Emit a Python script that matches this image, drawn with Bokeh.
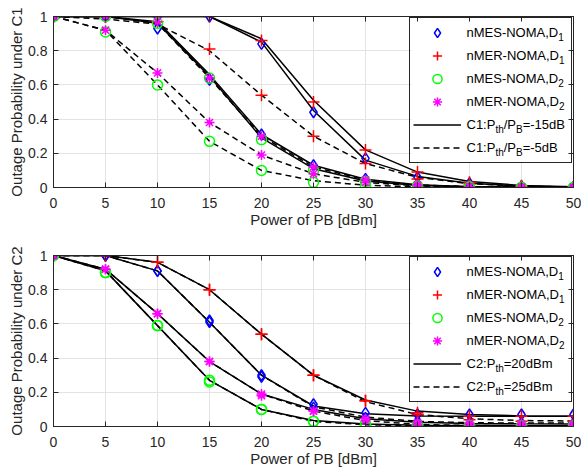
from bokeh.plotting import figure
from bokeh.models import Range1d, FixedTicker, LinearAxis, Legend, LegendItem, Label, BoxAnnotation
from bokeh.layouts import column
from bokeh.embed import file_html
from bokeh.resources import INLINE

# ---------------- data ----------------
power_dbm = [0, 5, 10, 15, 20, 25, 30, 35, 40, 45, 50]
x_ticks = [0, 5, 10, 15, 20, 25, 30, 35, 40, 45, 50]
y_ticks = [0, 0.2, 0.4, 0.6, 0.8, 1]

# C1 analytical curves (solid: Pth/PB=-15dB, dashed: Pth/PB=-5dB)
c1_a15_nmes_d1 = [1, 1, 1, 1, 0.85, 0.45, 0.16, 0.065, 0.025, 0.008, 0.003]
c1_a15_nmer_d1 = [1, 1, 1, 1, 0.87, 0.51, 0.22, 0.09, 0.035, 0.012, 0.004]
c1_a15_nmes_d2 = [1, 1, 0.96, 0.65, 0.29, 0.11, 0.038, 0.012, 0.004, 0.001, 0.0004]
c1_a15_nmer_d2 = [1, 1, 0.97, 0.66, 0.31, 0.13, 0.048, 0.016, 0.005, 0.0016, 0.0005]
c1_a5_nmes_d1 = [1, 1, 0.96, 0.64, 0.30, 0.12, 0.045, 0.015, 0.005, 0.0015, 0.0005]
c1_a5_nmer_d1 = [1, 0.985, 0.955, 0.80, 0.54, 0.30, 0.14, 0.06, 0.022, 0.008, 0.003]
c1_a5_nmes_d2 = [1, 0.92, 0.60, 0.27, 0.10, 0.04, 0.013, 0.004, 0.0013, 0.0004, 0.0001]
c1_a5_nmer_d2 = [1, 0.92, 0.67, 0.38, 0.19, 0.08, 0.03, 0.01, 0.0035, 0.0011, 0.0003]

# C1 simulation markers
c1_s15_nmes_d1 = [1, 1, 1, 1, 0.84, 0.44, 0.17, 0.06, 0.025, 0.008, 0.003]
c1_s15_nmer_d1 = [1, 1, 1, 1, 0.86, 0.50, 0.22, 0.09, 0.03, 0.01, 0.004]
c1_s15_nmes_d2 = [1, 1, 0.96, 0.64, 0.28, 0.10, 0.035, 0.01, 0.004, 0.001, 0]
c1_s15_nmer_d2 = [1, 1, 0.97, 0.64, 0.30, 0.12, 0.045, 0.015, 0.005, 0.002, 0.001]
c1_s5_nmes_d1 = [1, 1, 0.93, 0.63, 0.31, 0.13, 0.05, 0.02, 0.005, 0.002, 0.001]
c1_s5_nmer_d1 = [1, 1, 0.97, 0.81, 0.54, 0.30, 0.14, 0.05, 0.02, 0.007, 0.002]
c1_s5_nmes_d2 = [1, 0.91, 0.60, 0.27, 0.10, 0.03, 0.01, 0.003, 0.001, 0, 0]
c1_s5_nmer_d2 = [1, 0.92, 0.67, 0.38, 0.19, 0.08, 0.03, 0.01, 0.003, 0.001, 0]

# C2 analytical curves (solid: Pth=20dBm, dashed: Pth=25dBm)
c2_a20_nmes_d1 = [1, 1, 0.91, 0.61, 0.30, 0.12, 0.075, 0.062, 0.06, 0.06, 0.06]
c2_a20_nmer_d1 = [1, 1, 0.96, 0.80, 0.54, 0.30, 0.155, 0.09, 0.07, 0.062, 0.06]
c2_a20_nmes_d2 = [1, 0.91, 0.59, 0.27, 0.10, 0.035, 0.015, 0.008, 0.006, 0.005, 0.005]
c2_a20_nmer_d2 = [1, 0.92, 0.66, 0.38, 0.19, 0.10, 0.045, 0.025, 0.018, 0.016, 0.015]
c2_a25_nmes_d1 = [1, 1, 0.91, 0.61, 0.30, 0.115, 0.055, 0.03, 0.022, 0.02, 0.02]
c2_a25_nmer_d1 = [1, 1, 0.96, 0.80, 0.54, 0.30, 0.145, 0.07, 0.045, 0.035, 0.032]
c2_a25_nmes_d2 = [1, 0.91, 0.59, 0.27, 0.10, 0.03, 0.01, 0.004, 0.002, 0.001, 0.001]
c2_a25_nmer_d2 = [1, 0.92, 0.66, 0.38, 0.19, 0.09, 0.035, 0.012, 0.006, 0.004, 0.004]

# C2 simulation markers
c2_s20_nmes_d1 = [1, 1, 0.91, 0.62, 0.30, 0.13, 0.08, 0.07, 0.07, 0.07, 0.07]
c2_s20_nmer_d1 = [1, 1, 0.96, 0.80, 0.54, 0.30, 0.15, 0.08, 0.06, 0.06, 0.06]
c2_s20_nmes_d2 = [1, 0.90, 0.59, 0.27, 0.10, 0.03, 0.015, 0.008, 0.006, 0.005, 0.005]
c2_s20_nmer_d2 = [1, 0.92, 0.66, 0.38, 0.19, 0.09, 0.045, 0.025, 0.018, 0.016, 0.015]
c2_s25_nmes_d1 = [1, 1, 0.91, 0.61, 0.29, 0.11, 0.05, 0.03, 0.02, 0.02, 0.02]
c2_s25_nmer_d1 = [1, 1, 0.96, 0.80, 0.54, 0.30, 0.15, 0.07, 0.04, 0.03, 0.03]
c2_s25_nmes_d2 = [1, 0.90, 0.59, 0.26, 0.10, 0.03, 0.01, 0.004, 0.002, 0.001, 0.001]
c2_s25_nmer_d2 = [1, 0.92, 0.66, 0.38, 0.18, 0.09, 0.035, 0.012, 0.006, 0.004, 0.004]

scheme_names = ["nMES-NOMA,D", "nMER-NOMA,D", "nMES-NOMA,D", "nMER-NOMA,D"]
scheme_subs = ["1", "1", "2", "2"]

# ---------------- style ----------------
FONT = "Liberation Sans"
AXC = "#262626"
GRID = "#e3e3e3"
FW, FH = 520, 171
DASH = "6 4"
LEG_FS, SUB_FS = 13, 10
LEG_PAD, LEG_GW, LEG_GH, LEG_LW, LEG_SO = 3, 48, 23, 103, 4

MARKERS = [
    dict(marker="diamond", size=11, line_color="#0000ff"),
    dict(marker="cross", size=12, line_color="#ff0000"),
    dict(marker="circle", size=10, line_color="#00ff00"),
    dict(marker="asterisk", size=10, line_color="#ff00ff"),
]

ARIAL = {"n": 556, "M": 833, "E": 667, "S": 667, "-": 333, "N": 722, "O": 778,
         "A": 667, ",": 278, "D": 722, "R": 722, "C": 722, "1": 556, "2": 556,
         ":": 278, "P": 667, "t": 278, "h": 556, "/": 278, "B": 667, "=": 584,
         "5": 556, "d": 556, "m": 833, "0": 556}


def text_w(s, fs):
    return sum(ARIAL.get(c, 556) for c in s) * fs / 1000.0


def style_axis(ax, show):
    ax.axis_line_color = AXC
    ax.major_tick_line_color = AXC
    ax.major_tick_in = 5
    ax.major_tick_out = 0
    ax.minor_tick_line_color = None
    ax.major_label_text_font = FONT
    ax.major_label_text_font_size = "14px"
    ax.major_label_text_color = AXC
    ax.axis_label_text_font = FONT
    ax.axis_label_text_font_size = "15px"
    ax.axis_label_text_font_style = "normal"
    ax.axis_label_text_color = AXC
    if not show:
        ax.major_label_text_font_size = "0px"
        ax.major_label_standoff = 0


def make_panel(ylabel, lines_solid, lines_dashed, marks_solid, marks_dashed,
               legend_rows, top_border, bottom_border):
    p = figure(output_backend="svg", toolbar_location=None,
               frame_width=FW, frame_height=FH,
               x_range=Range1d(0, 50), y_range=Range1d(0, 1),
               min_border_left=53, min_border_right=8,
               min_border_top=top_border, min_border_bottom=bottom_border,
               background_fill_color="white", border_fill_color="white")
    p.outline_line_color = AXC
    p.xaxis.ticker = FixedTicker(ticks=x_ticks)
    p.yaxis.ticker = FixedTicker(ticks=y_ticks)
    p.yaxis.major_label_overrides = {0: "0", 1: "1"}
    p.xaxis.axis_label = "Power of PB [dBm]"
    p.yaxis.axis_label = ylabel
    style_axis(p.xaxis[0], True)
    style_axis(p.yaxis[0], True)
    p.xaxis.major_label_standoff = 10
    p.xaxis.axis_label_standoff = 0
    p.yaxis.major_label_standoff = 6
    p.yaxis.axis_label_standoff = 0

    top = LinearAxis(ticker=FixedTicker(ticks=x_ticks))
    top.major_label_overrides = {t: "" for t in x_ticks}
    style_axis(top, False)
    right = LinearAxis(ticker=FixedTicker(ticks=y_ticks))
    right.major_label_overrides = {t: "" for t in y_ticks}
    style_axis(right, False)
    p.add_layout(top, "above")
    p.add_layout(right, "right")

    for g in (p.xgrid[0], p.ygrid[0]):
        g.grid_line_color = GRID
        g.grid_line_width = 1
    p.xgrid.ticker = FixedTicker(ticks=x_ticks)
    p.ygrid.ticker = FixedTicker(ticks=y_ticks)

    # white backing for the legend area (covers the grid only)
    leg_w = 2 * LEG_PAD + LEG_GW + LEG_SO + LEG_LW
    leg_h = 2 * LEG_PAD + 6 * LEG_GH
    p.add_layout(BoxAnnotation(left=50.0 * (FW - 1 - leg_w) / FW, right=50.0 * (FW - 1) / FW,
                               bottom=1.0 - (1 + leg_h) / FH, top=1.0 - 1.0 / FH,
                               fill_color="white", fill_alpha=1.0, line_color=None,
                               level="underlay"))

    solid_r = None
    dashed_r = None
    for ys in lines_solid:
        r = p.line(power_dbm, ys, line_color="black", line_width=1.5)
        solid_r = solid_r or r
    for ys in lines_dashed:
        r = p.line(power_dbm, ys, line_color="black", line_width=1.5, line_dash=DASH)
        dashed_r = dashed_r or r

    mark_r = []
    for k in range(4):
        m = MARKERS[k]
        r1 = p.scatter(power_dbm, marks_solid[k], marker=m["marker"], size=m["size"],
                       line_color=m["line_color"], fill_color=None, line_width=1.5)
        p.scatter(power_dbm, marks_dashed[k], marker=m["marker"], size=m["size"],
                  line_color=m["line_color"], fill_color=None, line_width=1.5)
        mark_r.append(r1)

    items = [LegendItem(label=" ", renderers=[r]) for r in mark_r]
    items += [LegendItem(label=" ", renderers=[solid_r]),
              LegendItem(label=" ", renderers=[dashed_r])]
    leg = Legend(items=items, location="top_right", margin=1, padding=LEG_PAD,
                 spacing=0, glyph_height=LEG_GH, glyph_width=LEG_GW,
                 label_height=LEG_GH, label_width=LEG_LW, label_standoff=LEG_SO,
                 label_text_font_size="1px",
                 border_line_color=AXC, border_line_width=1, border_line_alpha=1.0,
                 background_fill_alpha=0.0)
    p.add_layout(leg)

    # legend texts with subscripts
    text_left_px = FW - 1 - LEG_PAD - LEG_LW
    for i, pieces in enumerate(legend_rows):
        cy_px = 1 + LEG_PAD + LEG_GH / 2.0 + LEG_GH * i
        xd = 50.0 * text_left_px / FW
        yd = 1.0 - cy_px / FH
        off = 0.0
        for txt, sub in pieces:
            fs = SUB_FS if sub else LEG_FS
            p.add_layout(Label(x=xd, y=yd, text=txt, x_offset=off,
                               y_offset=-5 if sub else 0,
                               text_font=FONT, text_font_size=f"{fs}px",
                               text_color="black", text_baseline="middle",
                               text_align="left"))
            off += text_w(txt, fs)
    return p


rows_c1 = [[(scheme_names[k], False), (scheme_subs[k], True)] for k in range(4)]
rows_c1 += [[("C1:P", False), ("th", True), ("/P", False), ("B", True), ("=-15dB", False)],
            [("C1:P", False), ("th", True), ("/P", False), ("B", True), ("=-5dB", False)]]
rows_c2 = [[(scheme_names[k], False), (scheme_subs[k], True)] for k in range(4)]
rows_c2 += [[("C2:P", False), ("th", True), ("=20dBm", False)],
            [("C2:P", False), ("th", True), ("=25dBm", False)]]

p1 = make_panel("Outage Probability under C1",
                [c1_a15_nmes_d1, c1_a15_nmer_d1, c1_a15_nmes_d2, c1_a15_nmer_d2],
                [c1_a5_nmes_d1, c1_a5_nmer_d1, c1_a5_nmes_d2, c1_a5_nmer_d2],
                [c1_s15_nmes_d1, c1_s15_nmer_d1, c1_s15_nmes_d2, c1_s15_nmer_d2],
                [c1_s5_nmes_d1, c1_s5_nmer_d1, c1_s5_nmes_d2, c1_s5_nmer_d2],
                rows_c1, 16, 45)
p2 = make_panel("Outage Probability under C2",
                [c2_a20_nmes_d1, c2_a20_nmer_d1, c2_a20_nmes_d2, c2_a20_nmer_d2],
                [c2_a25_nmes_d1, c2_a25_nmer_d1, c2_a25_nmes_d2, c2_a25_nmer_d2],
                [c2_s20_nmes_d1, c2_s20_nmer_d1, c2_s20_nmes_d2, c2_s20_nmer_d2],
                [c2_s25_nmes_d1, c2_s25_nmer_d1, c2_s25_nmes_d2, c2_s25_nmer_d2],
                rows_c2, 23, 42)

layout = column(p1, p2, spacing=0)
open("out.html", "w").write(file_html(layout, INLINE))
